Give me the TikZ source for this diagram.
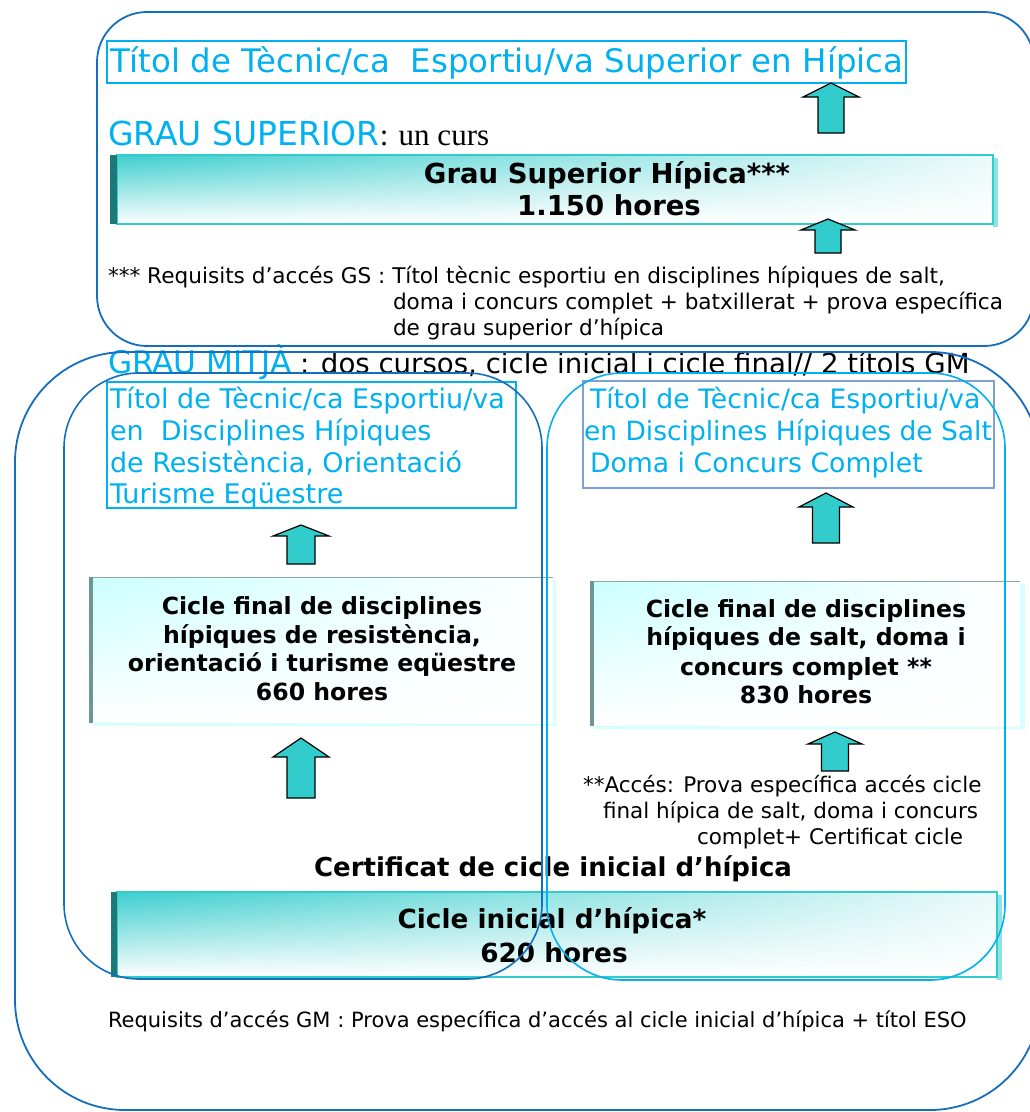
\documentclass[tikz,border=0pt]{standalone}
\usepackage{fontspec}
\setmainfont{DejaVu Sans}
\newfontfamily\serifTNR{Liberation Serif}
\usetikzlibrary{fadings}
\definecolor{dkblue}{RGB}{20,110,190}
\definecolor{cyanT}{RGB}{0,176,240}
\definecolor{tealA}{RGB}{51,204,204}
\definecolor{tealD}{RGB}{30,120,120}
\definecolor{paleC}{RGB}{204,255,255}
\definecolor{greyC}{RGB}{110,150,150}
\definecolor{boxB}{RGB}{125,160,215}
\newcommand\fsz[1]{\fontsize{#1}{#1}\selectfont}
\newcommand\blockarr[6]{% cx, tip, shoulder, bottom, headhalf, shafthalf
  \draw[arrowsty] (#1,#2) -- (#1+#5,#3) -- (#1+#6,#3) -- (#1+#6,#4) -- (#1-#6,#4) -- (#1-#6,#3) -- (#1-#5,#3) -- cycle;}
\begin{document}
\begin{tikzpicture}[x=1pt,y=-1pt,
  lbl/.style={inner sep=0pt, outer sep=0pt},
  arrowsty/.style={fill=tealA, draw=black, line width=1.2pt, line join=miter},
  roundbox/.style={line width=1.8pt},
  titlebox/.style={draw=cyanT, line width=1.6pt},
  cyantext/.style={lbl, text=cyanT},
  boldtext/.style={lbl, font=\bfseries}]
\useasboundingbox (0,0) rectangle (1030,1112);
\clip (0,0) rectangle (1030,1112);

% ---------- GS part ----------
\draw[titlebox] (107,41) rectangle (906,83);
\node[cyantext, anchor=base west, font=\fsz{32.4}] (t1) at (110,72) {Títol de Tècnic/ca~ Esportiu/va Superior en Hípica};

\blockarr{831}{83}{97}{133}{28}{13}

\node[cyantext, anchor=base west, font=\fsz{33}] (gs) at (108,145) {GRAU SUPERIOR};
\node[lbl, anchor=base west, font=\serifTNR\fsz{31}] (gsun) at (gs.base east) {: un curs};

% GS gradient box
\fill[tealA!55] (993,158) rectangle (998,227);
\fill[left color=tealA!95, right color=tealA!10] (117,155) rectangle (993,224);
\fill[white, path fading=north] (117,155) rectangle (993,224);
\draw[tealA, line width=1.2pt] (117,155) rectangle (993,224);
\fill[tealD] (110,155) rectangle (117,224);
\node[boldtext, anchor=base, font=\bfseries\fsz{27.5}] (gs1) at (607,183) {Grau Superior Hípica***};
\node[boldtext, anchor=base, font=\bfseries\fsz{27.5}] (gs2) at (609,215) {1.150 hores};

\blockarr{828}{219}{230}{253}{27}{13}

\node[lbl, anchor=base west, font=\fsz{21.6}] (gsr1) at (108,283) {*** Requisits d’accés GS : Títol tècnic esportiu en disciplines hípiques de salt,};
\node[lbl, anchor=base west, font=\fsz{21.6}] (gsr2) at (393,309) {doma i concurs complet + batxillerat + prova específica};
\node[lbl, anchor=base west, font=\fsz{21.6}] (gsr3) at (393,335) {de grau superior d’hípica};

% ---------- GM part ----------
\node[cyantext, anchor=base west, font=\fsz{31.2}] (gm) at (108,373) {GRAU MITJÀ};
\node[lbl, anchor=base west, font=\fsz{27.6}] (gmt) at (300,373) {: dos cursos, cicle inicial i cicle final// 2 títols GM};

% left title box
\draw[titlebox] (107,382) rectangle (516,508);
\node[cyantext, anchor=base west, font=\fsz{27}] (lt1) at (110,408) {Títol de Tècnic/ca Esportiu/va};
\node[cyantext, anchor=base west, font=\fsz{27}] (lt2) at (110,440) {en~ Disciplines Hípiques};
\node[cyantext, anchor=base west, font=\fsz{27}] (lt3) at (110,472) {de Resistència, Orientació};
\node[cyantext, anchor=base west, font=\fsz{27}] (lt4) at (110,503) {Turisme Eqüestre};

% right title box
\draw[draw=boxB, line width=1.8pt] (583,381) rectangle (994,488);
\node[cyantext, anchor=base west, font=\fsz{26.7}] (rt1) at (590,408) {Títol de Tècnic/ca Esportiu/va};
\node[cyantext, anchor=base west, font=\fsz{26.5}] (rt2) at (584,440) {en Disciplines Hípiques de Salt};
\node[cyantext, anchor=base west, font=\fsz{26.7}] (rt3) at (590,472) {Doma i Concurs Complet};

\blockarr{301}{525}{536}{564}{28}{14}
\blockarr{826}{493}{507}{543}{27}{13.5}

% left cicle final box
\fill[paleC!80] (93,580) rectangle (556,726);
\fill[left color=paleC, right color=white] (93,577) rectangle (553,723);
\fill[white, path fading=north] (93,577) rectangle (553,723);
\draw[greyC!80, line width=1pt] (93,577) -- (553,577);
\fill[greyC] (89,577) rectangle (93,723);
\node[boldtext, anchor=base, font=\bfseries\fsz{23.6}] (lf1) at (322,614) {Cicle final de disciplines};
\node[boldtext, anchor=base, font=\bfseries\fsz{23.6}] (lf2) at (322,643) {hípiques de resistència,};
\node[boldtext, anchor=base, font=\bfseries\fsz{23.6}] (lf3) at (322,671) {orientació i turisme eqüestre};
\node[boldtext, anchor=base, font=\bfseries\fsz{23.6}] (lf4) at (322,700) {660 hores};

% right cicle final box
\fill[paleC!80] (594,584) rectangle (1025,729);
\fill[left color=paleC, right color=white] (594,581) rectangle (1020,726);
\fill[white, path fading=north] (594,581) rectangle (1020,726);
\draw[greyC!80, line width=1pt] (594,581) -- (1020,581);
\fill[greyC] (590,581) rectangle (594,726);
\node[boldtext, anchor=base, font=\bfseries\fsz{23.6}] (rf1) at (806,617) {Cicle final de disciplines};
\node[boldtext, anchor=base, font=\bfseries\fsz{23.6}] (rf2) at (806,645) {hípiques de salt, doma i};
\node[boldtext, anchor=base, font=\bfseries\fsz{23.6}] (rf3) at (806,675) {concurs complet **};
\node[boldtext, anchor=base, font=\bfseries\fsz{23.6}] (rf4) at (806,703) {830 hores};

\blockarr{301}{738}{757}{798}{28}{14}
\blockarr{835}{732}{744}{771}{27}{13.5}

\node[lbl, anchor=base west, font=\fsz{21.5}] (ac1) at (583,792) {**Accés: Prova específica accés cicle};
\node[lbl, anchor=base west, font=\fsz{21.5}] (ac2) at (603,818) {final hípica de salt, doma i concurs};
\node[lbl, anchor=base west, font=\fsz{21.5}] (ac3) at (697,844) {complet+ Certificat cicle};

\node[boldtext, anchor=base, font=\bfseries\fsz{26}] (cert) at (553,876) {Certificat de cicle inicial d’hípica};

% bottom gradient box
\fill[tealA!55] (997,895) rectangle (1002,980);
\fill[left color=tealA!95, right color=tealA!10] (117,892) rectangle (997,977);
\fill[white, path fading=north] (117,892) rectangle (997,977);
\draw[tealA, line width=1.2pt] (117,892) rectangle (997,977);
\fill[tealD] (111,892) rectangle (117,977);
\node[boldtext, anchor=base, font=\bfseries\fsz{26.3}] (ci1) at (552,928) {Cicle inicial d’hípica*};
\node[boldtext, anchor=base, font=\bfseries\fsz{26.3}] (ci2) at (554,962) {620 hores};

\node[lbl, anchor=base west, font=\fsz{21}] (gmr) at (108,1027) {Requisits d’accés GM : Prova específica d’accés al cicle inicial d’hípica + títol ESO};

% ---------- rounded frames ----------
\draw[roundbox, dkblue, rounded corners=50pt] (97,12) rectangle (1034,346);
\draw[roundbox, dkblue, rounded corners=110pt] (15,352) rectangle (1040,1110);
\draw[dkblue, line width=1.6pt, rounded corners=75pt] (64,373) rectangle (542,979);
\draw[cyanT, line width=1.6pt, rounded corners=75pt] (547,373) rectangle (1005,980);
\end{tikzpicture}
\end{document}
